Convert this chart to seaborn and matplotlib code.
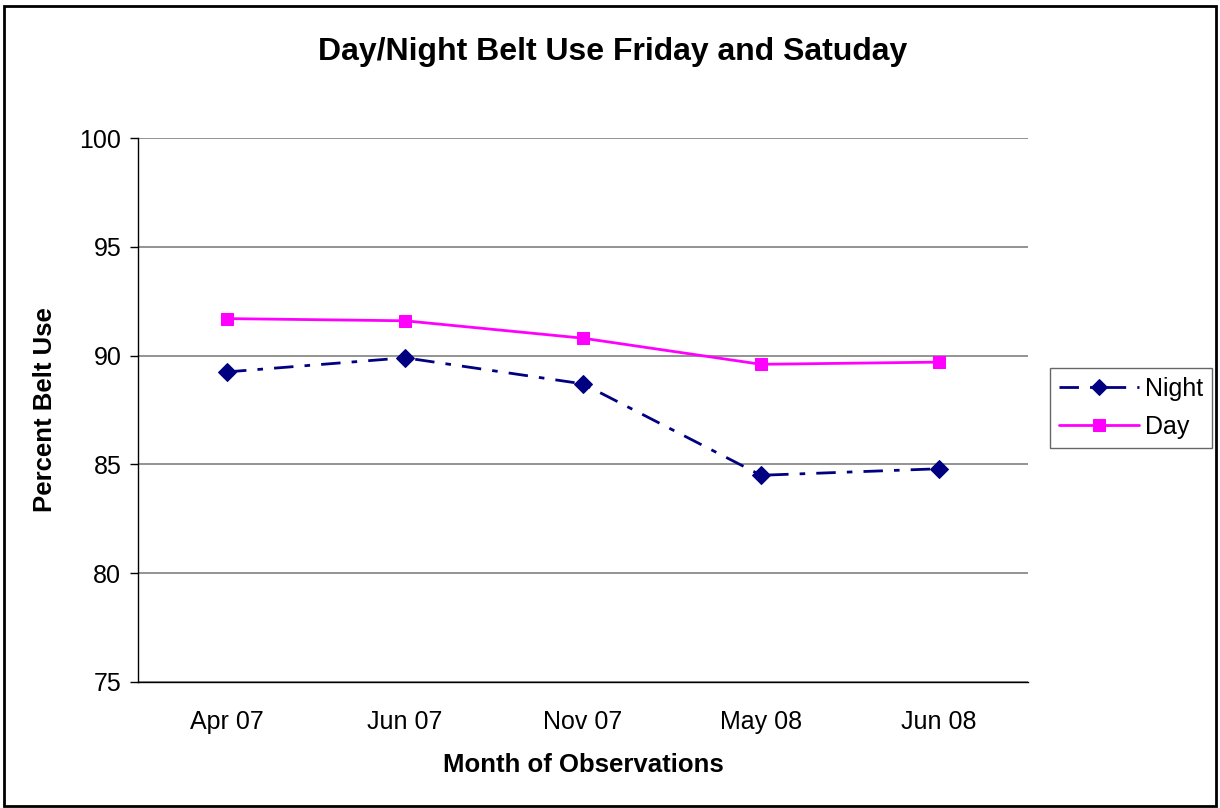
import matplotlib
matplotlib.use("Agg")
import matplotlib.pyplot as plt
import seaborn as sns
import pandas as pd
import numpy as np
from matplotlib.patches import Rectangle

months = ["Apr 07", "Jun 07", "Nov 07", "May 08", "Jun 08"]
night = [89.25, 89.9, 88.7, 84.5, 84.8]
day = [91.7, 91.6, 90.8, 89.6, 89.7]
yticks = [75, 80, 85, 90, 95, 100]

sns.set_style("white")
plt.rcParams['font.family'] = ['Liberation Sans', 'DejaVu Sans']
plt.rcParams['text.color'] = 'black'
plt.rcParams['axes.labelcolor'] = 'black'
plt.rcParams['xtick.color'] = 'black'
plt.rcParams['ytick.color'] = 'black'

fig = plt.figure(figsize=(12.2, 8.08), dpi=100)
ax = fig.add_axes([138/1220, 1-682/808, (1028-138)/1220, (682-138)/808])

df = pd.DataFrame({"x": np.arange(len(months)), "Night": night, "Day": day})

sns.lineplot(data=df, x="x", y="Night", ax=ax, color="#000080", linestyle=(0, (7, 4, 2, 4)),
             linewidth=2, marker="D", markersize=9, markeredgecolor="#000080", label="Night")
sns.lineplot(data=df, x="x", y="Day", ax=ax, color="#FF00FF", linestyle="-",
             linewidth=2, marker="s", markersize=9, markeredgecolor="#FF00FF", label="Day")

ax.set_xlim(-0.5, len(months)-0.5)
ax.set_ylim(75, 100)
ax.set_yticks(yticks)
ax.set_yticklabels([str(v) for v in yticks], fontsize=18)
ax.set_xticks(np.arange(len(months)))
ax.set_xticklabels(months, fontsize=18)
ax.set_xticks(np.arange(len(months)+1)-0.5, minor=True)
ax.tick_params(axis='x', which='major', length=0, pad=20)
ax.tick_params(axis='x', which='minor', length=6, direction='out', color='black', width=1)
ax.tick_params(axis='y', which='major', length=6, direction='out', color='black', width=1, pad=6, left=True)
ax.grid(axis='y', color='#808080', linewidth=1.2)
ax.set_axisbelow(True)
for s in ['top', 'right']:
    ax.spines[s].set_visible(False)
for s in ['left', 'bottom']:
    ax.spines[s].set_color('black')
    ax.spines[s].set_linewidth(1)

ax.set_xlabel("Month of Observations", fontsize=18.5, fontweight='bold', labelpad=14)
ax.set_ylabel("Percent Belt Use", fontsize=18.5, fontweight='bold', labelpad=16)
fig.text(613/1220, 1-52/808, "Day/Night Belt Use Friday and Satuday", ha='center', va='center',
         fontsize=23, fontweight='bold')

leg = ax.legend(loc='center left', bbox_to_anchor=(1050/1220, 1-408/808), bbox_transform=fig.transFigure,
                frameon=True, fancybox=False, fontsize=18, handlelength=3.2, borderpad=0.35,
                labelspacing=0.55, handletextpad=0.25, borderaxespad=0, markerscale=0.9)
leg.get_frame().set_edgecolor('#404040')
leg.get_frame().set_linewidth(1)

fig.patches.append(Rectangle((4/1220, 2/808), 1212/1220, 800/808, transform=fig.transFigure,
                             fill=False, edgecolor='black', linewidth=2))

fig.savefig("out.png", dpi=100, facecolor='white')
